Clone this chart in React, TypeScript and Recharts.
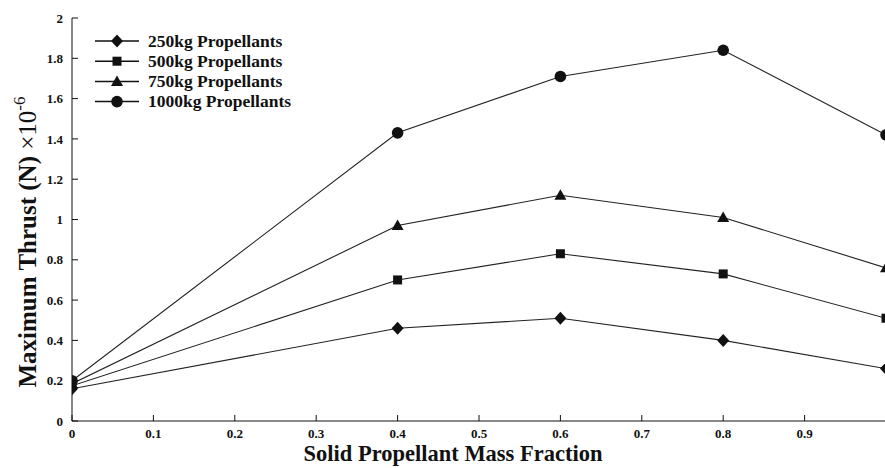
import React from 'react';
import { LineChart, Line, XAxis, YAxis, Label } from 'recharts';

// mass fraction of solid propellant
const fractions = [0, 0.4, 0.6, 0.8, 1.0];

// maximum thrust (x10^-6 N) for each propellant mass
const thrust250 = [0.16, 0.46, 0.51, 0.4, 0.26];
const thrust500 = [0.175, 0.7, 0.83, 0.73, 0.51];
const thrust750 = [0.185, 0.97, 1.12, 1.01, 0.76];
const thrust1000 = [0.2, 1.43, 1.71, 1.84, 1.42];

const xTicks = [0, 0.1, 0.2, 0.3, 0.4, 0.5, 0.6, 0.7, 0.8, 0.9];
const yTicks = [0, 0.2, 0.4, 0.6, 0.8, 1, 1.2, 1.4, 1.6, 1.8, 2];

const seriesNames = ['250kg Propellants', '500kg Propellants', '750kg Propellants', '1000kg Propellants'];
const seriesKeys = ['p250', 'p500', 'p750', 'p1000'];
const seriesShapes = ['diamond', 'square', 'triangle', 'circle'];

const data = fractions.map((f, i) => ({
  fraction: f,
  p250: thrust250[i],
  p500: thrust500[i],
  p750: thrust750[i],
  p1000: thrust1000[i],
}));

const FONT = '"Liberation Serif", "DejaVu Serif", serif';
const INK = '#111';

const Marker = ({ shape, cx, cy }: { shape: string; cx: number; cy: number }) => {
  if (shape === 'diamond') {
    return <polygon points={`${cx},${cy - 6.5} ${cx + 6},${cy} ${cx},${cy + 6.5} ${cx - 6},${cy}`} fill={INK} />;
  }
  if (shape === 'square') {
    return <rect x={cx - 4.5} y={cy - 4.5} width={9} height={9} fill={INK} />;
  }
  if (shape === 'triangle') {
    return <polygon points={`${cx},${cy - 6} ${cx + 6},${cy + 4.5} ${cx - 6},${cy + 4.5}`} fill={INK} />;
  }
  return <circle cx={cx} cy={cy} r={5.8} fill={INK} />;
};

const makeDot = (shape: string) => (props: any) => {
  const { cx, cy, index } = props;
  if (cx == null || cy == null) return <g key={index} />;
  return <Marker key={index} shape={shape} cx={cx} cy={cy} />;
};

// legend drawn as a plain overlay in the top-left of the plot
const LegendBox = () => (
  <svg width={240} height={90} style={{ position: 'absolute', left: 95, top: 31 }}>
    {seriesNames.map((name, i) => {
      const y = 10 + i * 20.2;
      return (
        <g key={name}>
          <line x1={0} x2={44} y1={y} y2={y} stroke={INK} strokeWidth={1.5} />
          <Marker shape={seriesShapes[i]} cx={22} cy={y} />
          <text x={53} y={y + 5.5} fontFamily={FONT} fontWeight="bold" fontSize={17.5} fill={INK}>
            {name}
          </text>
        </g>
      );
    })}
  </svg>
);

export default function App() {
  const tickStyle = { fontFamily: FONT, fontWeight: 'bold' as const, fontSize: 13, fill: INK };
  return (
    <div style={{ position: 'absolute', left: 0, top: 0, width: 885, height: 468, overflow: 'hidden', background: '#fff' }}>
      <LineChart width={895} height={468} data={data} margin={{ top: 18, right: 9, bottom: 0, left: 0 }}>
        <XAxis
          dataKey="fraction"
          type="number"
          domain={[0, 1]}
          ticks={xTicks}
          height={47}
          stroke={INK}
          tickSize={-6}
          tickMargin={14}
          tick={tickStyle}
          allowDataOverflow
        >
          <Label
            value="Solid Propellant Mass Fraction"
            position="insideBottom"
            dx={-26}
            dy={-7}
            offset={0}
            style={{ fontFamily: FONT, fontWeight: 'bold', fontSize: 22.5, fill: INK }}
          />
        </XAxis>
        <XAxis xAxisId="top" orientation="top" dataKey="fraction" type="number" domain={[0, 1]} height={0} tick={false} tickLine={false} stroke={INK} />
        <YAxis
          domain={[0, 2]}
          ticks={yTicks}
          width={72}
          stroke={INK}
          tickSize={-6}
          tickMargin={15}
          tick={tickStyle}
          allowDataOverflow
          interval={0}
        >
          <Label
            position="insideLeft"
            content={() => (
              <text
                transform="translate(36, 242) rotate(-90)"
                textAnchor="middle"
                fontFamily={FONT}
                fill={INK}
              >
                <tspan fontWeight="bold" fontSize={25}>Maximum Thrust (N) </tspan>
                <tspan fontSize={25}>×10</tspan>
                <tspan fontSize={17} dy={-11}>-6</tspan>
              </text>
            )}
          />
        </YAxis>
        <YAxis yAxisId="right" orientation="right" domain={[0, 2]} ticks={yTicks} width={0} tick={false} tickSize={-6} stroke={INK} interval={0} />
        {seriesKeys.map((key, i) => (
          <Line
            key={key}
            dataKey={key}
            name={seriesNames[i]}
            stroke="#222"
            strokeWidth={1.1}
            dot={makeDot(seriesShapes[i])}
            activeDot={false}
            isAnimationActive={false}
          />
        ))}
      </LineChart>
      <LegendBox />
    </div>
  );
}
